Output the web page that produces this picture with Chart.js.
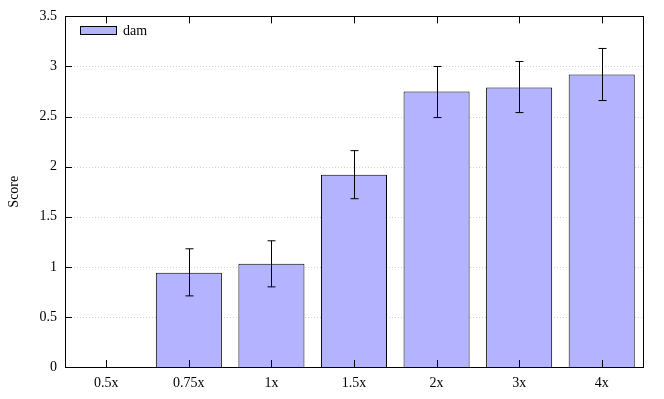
<!DOCTYPE html>
<html>
<head>
<meta charset="utf-8">
<script src="https://cdn.jsdelivr.net/npm/chart.js@4/dist/chart.umd.min.js"></script>
<style>
html,body{margin:0;padding:0;background:#fff;}
#wrap{width:664px;height:399px;position:relative;}
</style>
</head>
<body>
<div id="wrap"><canvas id="c" width="664" height="399"></canvas></div>
<script>
const categories = ['0.5x','0.75x','1x','1.5x','2x','3x','4x'];
const seriesName = 'dam';
const scores = [null, 0.94, 1.03, 1.92, 2.75, 2.79, 2.92];
const errLow = [null, 0.71, 0.80, 1.68, 2.49, 2.54, 2.66];
const errHigh = [null, 1.18, 1.26, 2.16, 3.00, 3.05, 3.18];
const yTicks = [0, 0.5, 1, 1.5, 2, 2.5, 3, 3.5];

const FONT = '"Liberation Serif", "Times New Roman", serif';

const gridPlugin = {
  id: 'dotgrid',
  beforeDatasetsDraw(chart) {
    const ctx = chart.ctx;
    const a = chart.chartArea;
    const ys = chart.scales.y;
    ctx.save();
    ctx.strokeStyle = '#d0d0d0';
    ctx.lineWidth = 1;
    ctx.setLineDash([1, 2]);
    ctx.beginPath();
    yTicks.forEach(v => {
      if (v === 0 || v === 3.5) return;
      const y = Math.round(ys.getPixelForValue(v)) + 0.5;
      ctx.moveTo(a.left, y); ctx.lineTo(a.right, y);
    });
    ctx.stroke();
    ctx.restore();
  }
};

const framePlugin = {
  id: 'frame',
  afterDatasetsDraw(chart) {
    const ctx = chart.ctx;
    const a = chart.chartArea;
    const xs = chart.scales.x, ys = chart.scales.y;
    ctx.save();
    ctx.strokeStyle = '#000';
    ctx.lineWidth = 1;
    for (let i = 0; i < categories.length; i++) {
      if (errLow[i] == null) continue;
      const x = Math.round(xs.getPixelForValue(i)) + 0.5;
      const y1 = ys.getPixelForValue(errLow[i]);
      const y2 = ys.getPixelForValue(errHigh[i]);
      ctx.beginPath();
      ctx.moveTo(x, y1); ctx.lineTo(x, y2);
      ctx.moveTo(x - 4, y1); ctx.lineTo(x + 4, y1);
      ctx.moveTo(x - 4, y2); ctx.lineTo(x + 4, y2);
      ctx.stroke();
    }
    ctx.strokeRect(Math.round(a.left) + 0.5, Math.round(a.top) + 0.5,
      Math.round(a.right - a.left), Math.round(a.bottom - a.top));
    ctx.beginPath();
    yTicks.forEach(v => {
      const y = Math.round(ys.getPixelForValue(v)) + 0.5;
      ctx.moveTo(a.left, y); ctx.lineTo(a.left + 7, y);
    });
    for (let i = 0; i < categories.length; i++) {
      const x = Math.round(xs.getPixelForValue(i)) + 0.5;
      ctx.moveTo(x, a.bottom); ctx.lineTo(x, a.bottom - 7);
      ctx.moveTo(x, a.top); ctx.lineTo(x, a.top + 7);
    }
    ctx.stroke();
    const ds = chart.data.datasets[0];
    ctx.fillStyle = ds.backgroundColor;
    ctx.fillRect(80, 26, 36, 8);
    ctx.strokeStyle = '#000';
    ctx.strokeRect(80.5, 26.5, 36, 8);
    ctx.fillStyle = '#000';
    ctx.font = '14px ' + FONT;
    ctx.textBaseline = 'middle';
    ctx.textAlign = 'left';
    ctx.fillText(ds.label, 123, 31);
    ctx.restore();
  }
};

new Chart(document.getElementById('c'), {
  type: 'bar',
  data: {
    labels: categories,
    datasets: [{
      label: seriesName,
      data: scores,
      backgroundColor: '#b3b3ff',
      borderColor: '#000',
      borderWidth: 1,
      barPercentage: 0.8,
      categoryPercentage: 1.0
    }]
  },
  options: {
    responsive: false,
    animation: false,
    devicePixelRatio: 1,
    layout: { padding: { top: 15, right: 21, bottom: 0, left: 0 } },
    plugins: { legend: { display: false }, tooltip: { enabled: false } },
    scales: {
      x: {
        grid: { display: false, drawTicks: false },
        border: { display: false },
        ticks: { color: '#000', font: { family: FONT, size: 14 }, padding: 8, maxRotation: 0 },
        afterFit(s) { s.height = 32; }
      },
      y: {
        min: 0, max: 3.5,
        afterBuildTicks(s) { s.ticks = yTicks.map(v => ({ value: v })); },
        grid: { display: false, drawTicks: false },
        border: { display: false },
        ticks: { color: '#000', font: { family: FONT, size: 14 }, padding: 8, callback: (v) => String(v) },
        title: { display: true, text: 'Score', color: '#000', font: { family: FONT, size: 14 }, padding: { top: 6, bottom: 0 } },
        afterFit(s) { s.width = 65; }
      }
    }
  },
  plugins: [gridPlugin, framePlugin]
});
</script>
</body>
</html>
